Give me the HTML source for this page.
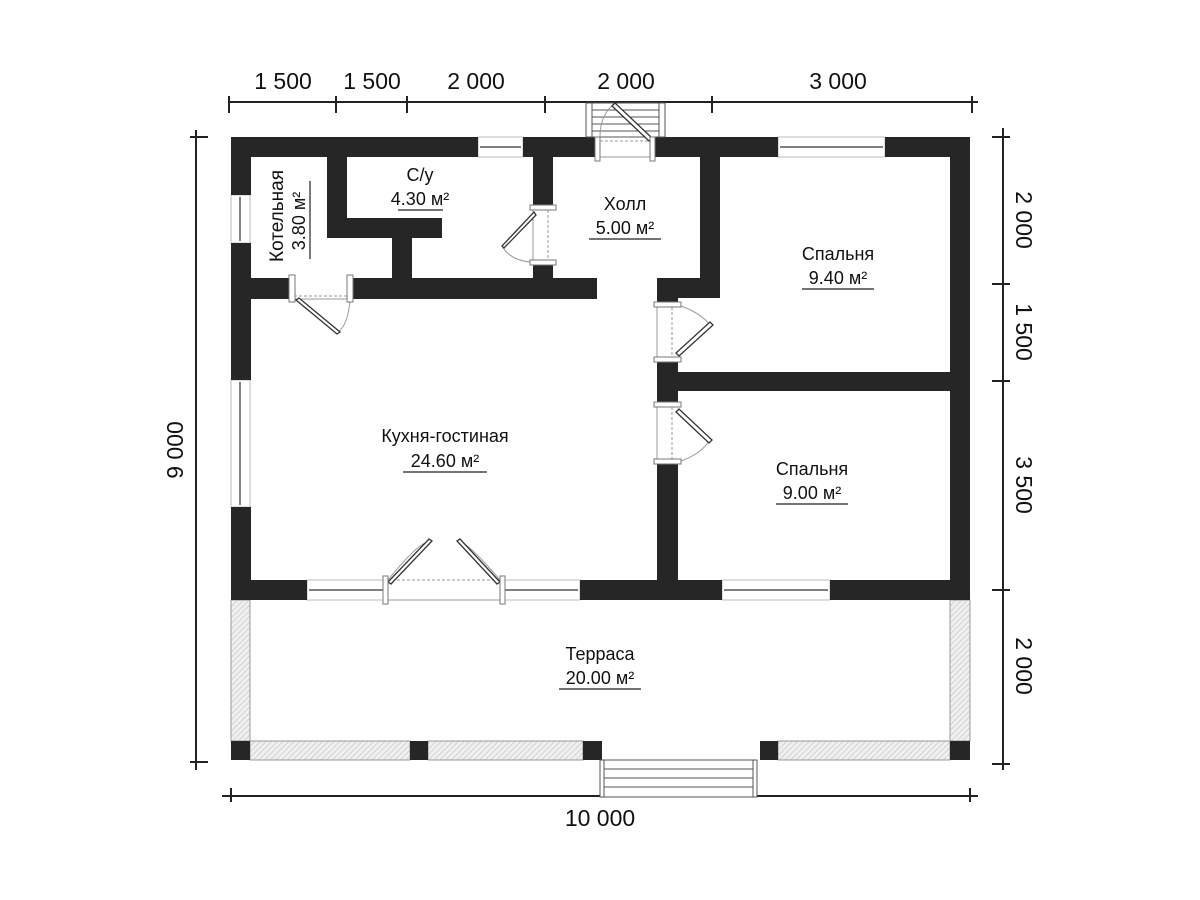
<!DOCTYPE html>
<html><head><meta charset="utf-8"><style>
html,body{margin:0;padding:0;background:#fff;}
svg{display:block;}
text{font-family:"Liberation Sans","DejaVu Sans",sans-serif;fill:#111;}
</style></head><body>
<svg width="1200" height="900" viewBox="0 0 1200 900" xmlns="http://www.w3.org/2000/svg">
<defs>
<pattern id="h" width="4" height="4" patternUnits="userSpaceOnUse" patternTransform="rotate(45)">
<rect width="4" height="4" fill="#f0f0f0"/><line x1="0" y1="0" x2="0" y2="4" stroke="#c8c8c8" stroke-width="1.5"/>
</pattern>
</defs>
<g stroke="#222" stroke-width="2" fill="none">
<line x1="229" y1="102" x2="978" y2="102"/>
<line x1="229" y1="96" x2="229" y2="113"/><line x1="336" y1="96" x2="336" y2="113"/><line x1="407" y1="96" x2="407" y2="113"/><line x1="545" y1="96" x2="545" y2="113"/><line x1="712" y1="96" x2="712" y2="113"/><line x1="972" y1="96" x2="972" y2="113"/>
<line x1="196" y1="130" x2="196" y2="770"/>
<line x1="190" y1="137" x2="208" y2="137"/><line x1="190" y1="762" x2="208" y2="762"/>
<line x1="1003" y1="128" x2="1003" y2="770"/>
<line x1="992" y1="137" x2="1010" y2="137"/><line x1="992" y1="284" x2="1010" y2="284"/><line x1="992" y1="381" x2="1010" y2="381"/><line x1="992" y1="590" x2="1010" y2="590"/><line x1="992" y1="764" x2="1010" y2="764"/>
<line x1="222" y1="796" x2="978" y2="796"/>
<line x1="231" y1="788" x2="231" y2="802"/><line x1="970" y1="788" x2="970" y2="802"/>
</g>
<g font-size="23" text-anchor="middle">
<text x="283" y="89">1 500</text><text x="372" y="89">1 500</text><text x="476" y="89">2 000</text><text x="626" y="89">2 000</text><text x="838" y="89">3 000</text>
<text x="600" y="826">10 000</text>
<text transform="translate(183,450) rotate(-90)">9 000</text>
<text transform="translate(1016,220) rotate(90)">2 000</text>
<text transform="translate(1016,332) rotate(90)">1 500</text>
<text transform="translate(1016,485) rotate(90)">3 500</text>
<text transform="translate(1016,666) rotate(90)">2 000</text>
</g>
<g fill="#fff" stroke="#bbb" stroke-width="1">
<rect x="478" y="137" width="45" height="20"/><rect x="778" y="137" width="107" height="20"/>
<rect x="231" y="195" width="19" height="48"/><rect x="231" y="380" width="19" height="127"/>
<rect x="307" y="580" width="78" height="20"/><rect x="503" y="580" width="77" height="20"/><rect x="722" y="580" width="108" height="20"/>
</g>
<g stroke="#555" stroke-width="1.5">
<line x1="480" y1="147" x2="521" y2="147"/><line x1="780" y1="147" x2="883" y2="147"/>
<line x1="240" y1="197" x2="240" y2="241"/><line x1="240" y1="382" x2="240" y2="505"/>
<line x1="309" y1="590" x2="383" y2="590"/><line x1="505" y1="590" x2="578" y2="590"/><line x1="724" y1="590" x2="828" y2="590"/>
</g>
<g fill="url(#h)" stroke="#999" stroke-width="1">
<rect x="231" y="600" width="19" height="141"/><rect x="950" y="600" width="20" height="141"/>
<rect x="250" y="741" width="160" height="19"/><rect x="428" y="741" width="155" height="19"/><rect x="778" y="741" width="172" height="19"/>
</g>
<g fill="#262626">
<rect x="231" y="137" width="247" height="20"/><rect x="523" y="137" width="75" height="20"/><rect x="652" y="137" width="126" height="20"/><rect x="885" y="137" width="85" height="20"/>
<rect x="231" y="137" width="20" height="58"/><rect x="231" y="243" width="20" height="137"/><rect x="231" y="507" width="20" height="93"/>
<rect x="950" y="137" width="20" height="463"/>
<rect x="231" y="580" width="76" height="20"/><rect x="580" y="580" width="142" height="20"/><rect x="830" y="580" width="140" height="20"/>
<rect x="327" y="157" width="20" height="81"/><rect x="327" y="218" width="115" height="20"/><rect x="392" y="218" width="20" height="62"/>
<rect x="250" y="278" width="42" height="21"/><rect x="350" y="278" width="247" height="21"/>
<rect x="533" y="157" width="20" height="51"/><rect x="533" y="262" width="20" height="18"/>
<rect x="700" y="157" width="20" height="141"/><rect x="657" y="278" width="63" height="20"/><rect x="657" y="278" width="21" height="27"/>
<rect x="657" y="360" width="21" height="45"/><rect x="678" y="372" width="272" height="19"/>
<rect x="657" y="462" width="21" height="138"/>
<rect x="231" y="741" width="19" height="19"/><rect x="410" y="741" width="18" height="19"/><rect x="583" y="741" width="19" height="19"/><rect x="760" y="741" width="18" height="19"/><rect x="950" y="741" width="20" height="19"/>
</g>
<g fill="#fff" stroke="#555" stroke-width="1">
<rect x="600" y="760" width="157" height="37"/><line x1="604" y1="760" x2="604" y2="797"/><line x1="753" y1="760" x2="753" y2="797"/>
<line x1="604" y1="769" x2="753" y2="769"/><line x1="604" y1="778" x2="753" y2="778"/><line x1="604" y1="787" x2="753" y2="787"/>
<rect x="586" y="103" width="79" height="34"/><line x1="592" y1="103" x2="592" y2="137"/><line x1="659" y1="103" x2="659" y2="137"/>
<line x1="592" y1="110" x2="659" y2="110"/><line x1="592" y1="117" x2="659" y2="117"/><line x1="592" y1="124" x2="659" y2="124"/><line x1="592" y1="131" x2="659" y2="131"/>
</g>
<g fill="none" stroke="#999" stroke-width="1">
<line x1="385" y1="600" x2="503" y2="600"/>
<line x1="387" y1="580" x2="501" y2="580" stroke-dasharray="3 2"/>
<path d="M388 580 Q420 540 432 541 M500 580 Q466 540 457 541"/>
<path d="M292 299 L350 299 M350 300 Q348 325 338 332"/>
<line x1="294" y1="296" x2="348" y2="296" stroke-dasharray="3 2"/>
<path d="M533 208 L533 262 M530 262 Q510 260 502 246"/>
<line x1="548" y1="210" x2="548" y2="260" stroke-dasharray="3 2"/>
<path d="M657 305 L657 360 M678 305 Q700 312 711 326 M678 462 Q700 455 709 441"/>
<line x1="672" y1="307" x2="672" y2="358" stroke-dasharray="3 2"/><line x1="657" y1="405" x2="657" y2="462"/><line x1="672" y1="407" x2="672" y2="460" stroke-dasharray="3 2"/>
<path d="M598 157 L652 157"/><line x1="600" y1="141" x2="650" y2="141" stroke-dasharray="3 2"/>
<path d="M614 104 Q600 115 600 137"/>
</g>
<g fill="#fff" stroke="#333" stroke-width="1.3">
<polygon points="388,582 391,584 432,541 429,539"/>
<polygon points="500,582 497,584 457,541 460,539"/>
<polygon points="296,300 299,298 340,332 337,334"/>
<polygon points="534,212 536,215 504,248 502,246"/>
<polygon points="676,353 679,356 713,325 710,322"/>
<polygon points="676,412 679,409 712,440 709,443"/>
<polygon points="652,138 649,141 612,106 615,103"/>
</g>
<g fill="#fff" stroke="#777" stroke-width="1">
<rect x="383" y="576" width="5" height="28"/><rect x="500" y="576" width="5" height="28"/>
<rect x="289" y="275" width="6" height="27"/><rect x="347" y="275" width="6" height="27"/>
<rect x="530" y="205" width="26" height="5"/><rect x="530" y="260" width="26" height="5"/>
<rect x="654" y="302" width="27" height="5"/><rect x="654" y="357" width="27" height="5"/><rect x="654" y="402" width="27" height="5"/><rect x="654" y="459" width="27" height="5"/>
<rect x="595" y="137" width="5" height="24"/><rect x="650" y="137" width="5" height="24"/>
</g>
<g font-size="18" text-anchor="middle">
<text x="420" y="181">С/у</text><text x="420" y="205">4.30 м²</text>
<text x="625" y="210">Холл</text><text x="625" y="234">5.00 м²</text>
<text x="838" y="260">Спальня</text><text x="838" y="284">9.40 м²</text>
<text x="445" y="442">Кухня-гостиная</text><text x="445" y="467">24.60 м²</text>
<text x="812" y="475">Спальня</text><text x="812" y="499">9.00 м²</text>
<text x="600" y="660">Терраса</text><text x="600" y="684">20.00 м²</text>
<text transform="translate(283,216) rotate(-90)" font-size="19">Котельная</text>
<text transform="translate(305,221) rotate(-90)">3.80 м²</text>
</g>
<g stroke="#222" stroke-width="1.2">
<line x1="398" y1="210" x2="443" y2="210"/><line x1="589" y1="239" x2="661" y2="239"/><line x1="802" y1="289" x2="874" y2="289"/>
<line x1="403" y1="472" x2="487" y2="472"/><line x1="776" y1="504" x2="848" y2="504"/><line x1="559" y1="689" x2="641" y2="689"/>
<line x1="310" y1="181" x2="310" y2="259"/>
</g>
</svg>
</body></html>
